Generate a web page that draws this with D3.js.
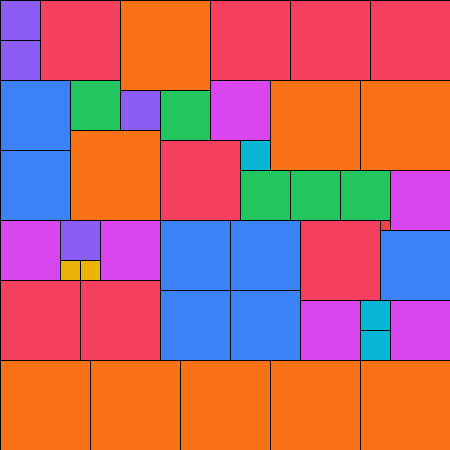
<!DOCTYPE html>
<html lang="en">
  <head>
    <meta charset="UTF-8" />
    <title>Squares</title>
    <script src="https://d3js.org/d3.v7.min.js"></script>
    <style>
      html, body { margin: 0; padding: 0; background: #fff; }
      svg { display: block; }
    </style>
  </head>

  <body>
    <div id="graph"></div>
    <script>
      // square sides 1..9 and the colour for each size
      const sizes = [1, 2, 3, 4, 5, 6, 7, 8, 9]
      const colors = ['#ef4444', '#eab308', '#06b6d4', '#8b5cf6', '#22c55e', '#d946ef', '#3b82f6', '#f43f5e', '#f97316']
      // order in which squares fill the first free cell (row by row, left to right)
      const order = [4, 8, 9, 8, 8, 8, 4, 7, 5, 6, 9, 9, 4, 5, 9, 8, 3, 7, 5, 5, 5, 6,
        6, 4, 6, 7, 7, 8, 1, 7, 2, 2, 8, 8, 7, 7, 6, 3, 6, 3, 9, 9, 9, 9, 9]

      const n = 45 // grid side
      const width = 450
      const height = 450

      // place every square at the first empty cell
      const grid = d3.range(n).map(() => new Array(n).fill(false))
      const tiles = []
      let row = 0
      let col = 0
      order.forEach((s) => {
        while (grid[row][col]) {
          col++
          if (col >= n) { col = 0; row++ }
        }
        for (let r = row; r < row + s; r++) {
          for (let c = col; c < col + s; c++) grid[r][c] = true
        }
        tiles.push({ x: col, y: row, s })
      })

      const xScale = d3.scaleLinear().domain([0, n]).range([0, width])
      const yScale = d3.scaleLinear().domain([0, n]).range([0, height])
      const color = d3.scaleOrdinal().domain(sizes).range(colors)

      const svg = d3.select('#graph').append('svg').attr('width', width).attr('height', height)

      svg
        .append('g')
        .selectAll('rect')
        .data(tiles)
        .join('rect')
        .attr('x', (d) => xScale(d.x) + 0.5)
        .attr('y', (d) => yScale(d.y) + 0.5)
        .attr('width', (d) => xScale(d.s))
        .attr('height', (d) => yScale(d.s))
        .attr('fill', (d) => color(d.s))
        .attr('stroke', '#000')
        .attr('stroke-width', 1)
    </script>
  </body>
</html>
